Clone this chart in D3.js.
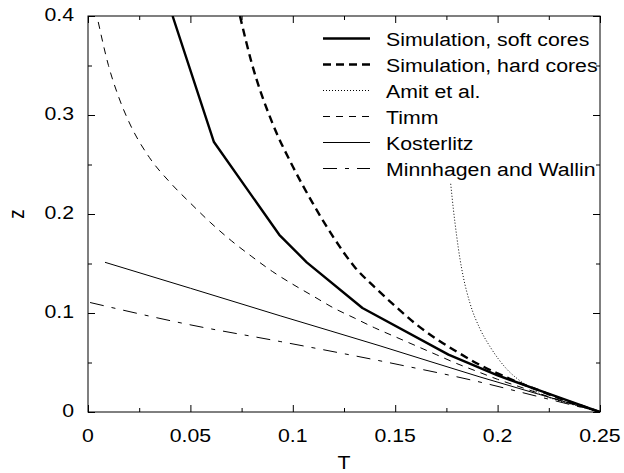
<!DOCTYPE html>
<html>
<head>
<meta charset="utf-8">
<script src="https://cdn.jsdelivr.net/npm/d3@7"></script>
<style>
  html, body { margin: 0; padding: 0; background: #fff; }
  svg text { font-family: "Liberation Sans", Arial, Helvetica, sans-serif; fill: #000; }
</style>
</head>
<body>
<svg id="chart" width="624" height="473"></svg>
<script>
// ---- data ----
const xTicks = [0, 0.05, 0.1, 0.15, 0.2, 0.25];
const xTickLabels = ["0", "0.05", "0.1", "0.15", "0.2", "0.25"];
const xMinorTicks = [0.025, 0.075, 0.125, 0.175, 0.225];
const yTicks = [0, 0.1, 0.2, 0.3, 0.4];
const yTickLabels = ["0", "0.1", "0.2", "0.3", "0.4"];
const yMinorTicks = [0.05, 0.15, 0.25, 0.35];

const seriesNames = ["Simulation, soft cores", "Simulation, hard cores", "Amit et al.", "Timm", "Kosterlitz", "Minnhagen and Wallin"];

const softT = [0.0413, 0.0615, 0.0934, 0.1068, 0.134, 0.176, 0.2, 0.22, 0.25];
const softZ = [0.4, 0.2727, 0.179, 0.1512, 0.105, 0.058, 0.037, 0.022, 0];

const hardT = [0.0742, 0.08, 0.09, 0.10, 0.11, 0.12, 0.13, 0.14, 0.15, 0.16, 0.17, 0.18, 0.19, 0.20, 0.21, 0.22, 0.23, 0.24, 0.25];
const hardZ = [0.4, 0.352, 0.292, 0.248, 0.210, 0.176, 0.147, 0.126, 0.107, 0.089, 0.074, 0.061, 0.049, 0.039, 0.030, 0.022, 0.014, 0.007, 0];

const amitT = [0.1771, 0.1784, 0.18, 0.1816, 0.1833, 0.1865, 0.1914, 0.1963, 0.2044, 0.2126, 0.2207, 0.235, 0.25];
const amitZ = [0.2305, 0.205, 0.178, 0.155, 0.136, 0.110, 0.084, 0.066, 0.0435, 0.029, 0.0185, 0.0085, 0];

const timmT = [0.005, 0.01, 0.015, 0.02, 0.03, 0.04, 0.05, 0.06, 0.07, 0.08, 0.09, 0.10, 0.11, 0.12, 0.13, 0.14, 0.15, 0.16, 0.17, 0.18, 0.19, 0.20, 0.21, 0.22, 0.23, 0.24, 0.25];
const timmZ = [0.394, 0.350, 0.318, 0.293, 0.257, 0.232, 0.211, 0.191, 0.173, 0.157, 0.142, 0.129, 0.117, 0.105, 0.095, 0.085, 0.076, 0.067, 0.058, 0.049, 0.041, 0.033, 0.026, 0.019, 0.012, 0.006, 0];

const kostT = [0.0083, 0.05, 0.0938, 0.1426, 0.1914, 0.22, 0.25];
const kostZ = [0.1512, 0.125, 0.0972, 0.0668, 0.0354, 0.018, 0];

const minnT = [0.001, 0.0498, 0.0938, 0.1523, 0.189, 0.22, 0.25];
const minnZ = [0.1106, 0.0881, 0.0712, 0.0476, 0.0314, 0.0155, 0];

// ---- layout ----
const M = { left: 88, right: 600, top: 16, bottom: 412 };
const FS = 19, SX = 1.12;
const svg = d3.select("#chart");

const x = d3.scaleLinear().domain([0, 0.25]).range([M.left, M.right]);
const y = d3.scaleLinear().domain([0, 0.4]).range([M.bottom, M.top]);

const zip = (a, b) => a.map((v, i) => [v, b[i]]);

const styles = [
  { t: softT, z: softZ, w: 2.4, dash: null, curve: d3.curveLinear },
  { t: hardT, z: hardZ, w: 2.4, dash: "8,5", curve: d3.curveMonotoneX },
  { t: amitT, z: amitZ, w: 1, dash: "1,2", curve: d3.curveMonotoneX },
  { t: timmT, z: timmZ, w: 1, dash: "7,6", curve: d3.curveMonotoneX },
  { t: kostT, z: kostZ, w: 1, dash: null, curve: d3.curveMonotoneX },
  { t: minnT, z: minnZ, w: 1, dash: "14,8,4,8", curve: d3.curveMonotoneX }
];

svg.append("clipPath").attr("id", "clip").append("rect")
  .attr("x", M.left).attr("y", M.top)
  .attr("width", M.right - M.left).attr("height", M.bottom - M.top);

// ---- ticks (inward, all four sides) ----
function tickAxis(axisFn, pos, vals, size, transform) {
  const g = svg.append("g").attr("transform", transform)
    .call(axisFn(pos).tickValues(vals).tickSize(-size).tickFormat(""));
  g.select(".domain").remove();
  g.selectAll("line").attr("stroke", "#000").attr("stroke-width", 1);
}
tickAxis(d3.axisBottom, x, xTicks, 7, `translate(0,${M.bottom})`);
tickAxis(d3.axisBottom, x, xMinorTicks, 4, `translate(0,${M.bottom})`);
tickAxis(d3.axisTop, x, xTicks, 7, `translate(0,${M.top})`);
tickAxis(d3.axisTop, x, xMinorTicks, 4, `translate(0,${M.top})`);
tickAxis(d3.axisLeft, y, yTicks, 7, `translate(${M.left},0)`);
tickAxis(d3.axisLeft, y, yMinorTicks, 4, `translate(${M.left},0)`);
tickAxis(d3.axisRight, y, yTicks, 7, `translate(${M.right},0)`);
tickAxis(d3.axisRight, y, yMinorTicks, 4, `translate(${M.right},0)`);

// frame
svg.append("rect")
  .attr("x", M.left).attr("y", M.top)
  .attr("width", M.right - M.left).attr("height", M.bottom - M.top)
  .attr("fill", "none").attr("stroke", "#000").attr("stroke-width", 1);

// text, horizontally stretched like the reference
function stretchedText(px, py, txt, anchor, rot) {
  return svg.append("text")
    .attr("transform", `translate(${px},${py}) scale(${SX},1)` + (rot ? ` rotate(${rot})` : ""))
    .attr("text-anchor", anchor)
    .attr("font-size", FS)
    .text(txt);
}
xTicks.forEach((v, i) => stretchedText(x(v), M.bottom + 30, xTickLabels[i], "middle"));
yTicks.forEach((v, i) => stretchedText(M.left - 14, y(v) + 5, yTickLabels[i], "end"));

// axis titles
stretchedText((M.left + M.right) / 2, 469, "T", "middle");
stretchedText(24, (M.top + M.bottom) / 2, "z", "middle", -90);

// ---- curves ----
const plot = svg.append("g").attr("clip-path", "url(#clip)");
styles.forEach(s => {
  const line = d3.line().x(d => x(d[0])).y(d => y(d[1])).curve(s.curve);
  plot.append("path")
    .attr("d", line(zip(s.t, s.z)))
    .attr("fill", "none")
    .attr("stroke", "#000")
    .attr("stroke-width", s.w)
    .attr("stroke-dasharray", s.dash)
    .attr("stroke-linejoin", "round");
});

// ---- legend ----
const legY0 = 38.5, legDY = 26;
const legend = svg.append("g");
seriesNames.forEach((name, i) => {
  const s = styles[i];
  const yy = legY0 + i * legDY;
  legend.append("line")
    .attr("x1", 323).attr("x2", 370).attr("y1", yy).attr("y2", yy)
    .attr("stroke", "#000").attr("stroke-width", s.w)
    .attr("stroke-dasharray", s.dash);
  stretchedText(386, yy + 7, name, "start");
});
</script>
</body>
</html>
